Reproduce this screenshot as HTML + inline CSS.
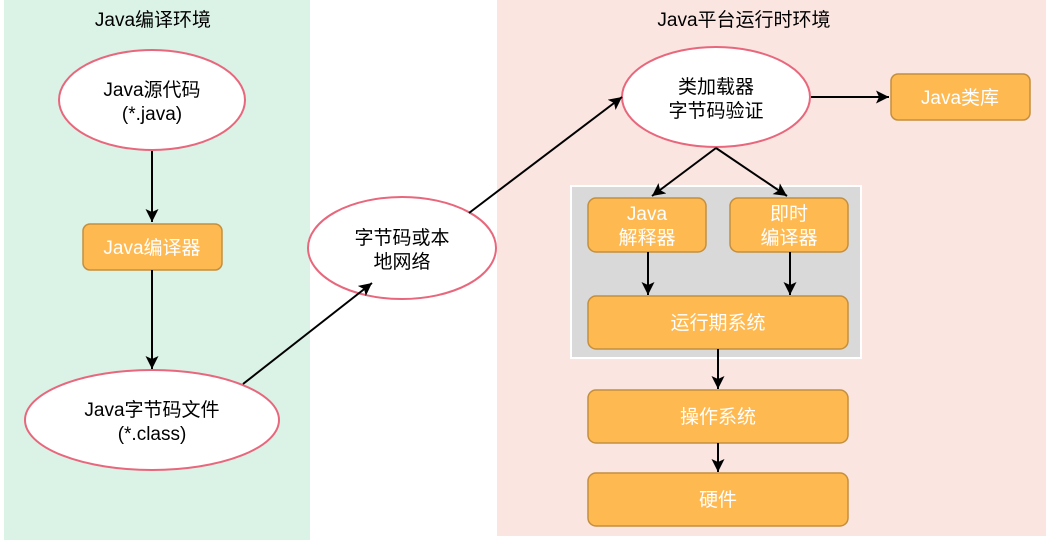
<!DOCTYPE html>
<html><head><meta charset="utf-8"><style>
html,body{margin:0;padding:0;background:#fff;}
svg{display:block;}
text{font-family:"Liberation Sans","Noto Sans CJK SC",sans-serif;font-size:19px;text-anchor:middle;}
.w{fill:#fff;}
</style></head><body>
<svg width="1051" height="540" viewBox="0 0 1051 540" xmlns="http://www.w3.org/2000/svg">
<defs><marker id="a" markerWidth="14" markerHeight="14" refX="13" refY="6.5" orient="auto" markerUnits="userSpaceOnUse"><path d="M0,0 L13,6.5 L0,13 L3,6.5 z" fill="#000"/></marker></defs>
<rect x="4" y="0" width="306" height="540" fill="#dbf2e7"/>
<rect x="497" y="0" width="549" height="536" fill="#fbe5e1"/>
<text x="153" y="26">Java编译环境</text>
<text x="744" y="26">Java平台运行时环境</text>
<g fill="#fff" stroke="#e8677c" stroke-width="2">
<ellipse cx="152" cy="100" rx="93" ry="50"/>
<ellipse cx="152" cy="420" rx="127" ry="50"/>
<ellipse cx="402" cy="248" rx="94" ry="51"/>
<ellipse cx="716" cy="97" rx="94" ry="50"/>
</g>
<rect x="571" y="186" width="290" height="172" fill="#d9d9d9" stroke="#fff" stroke-width="2"/>
<g fill="#ffb951" stroke="#c38f3e" stroke-width="1.5">
<rect x="83" y="224" width="139" height="46" rx="7"/>
<rect x="891" y="74" width="139" height="46" rx="7"/>
<rect x="588" y="198" width="118" height="54" rx="8"/>
<rect x="730" y="198" width="118" height="54" rx="8"/>
<rect x="588" y="296" width="260" height="53" rx="8"/>
<rect x="588" y="390" width="260" height="53" rx="8"/>
<rect x="588" y="473" width="260" height="53" rx="8"/>
</g>
<text x="152" y="96">Java源代码</text><text x="152" y="120">(*.java)</text>
<text x="152" y="416">Java字节码文件</text><text x="152" y="440">(*.class)</text>
<text x="402" y="244">字节码或本</text><text x="402" y="268">地网络</text>
<text x="716" y="93">类加载器</text><text x="716" y="117">字节码验证</text>
<text class="w" x="152" y="254">Java编译器</text>
<text class="w" x="960" y="104">Java类库</text>
<text class="w" x="647" y="220">Java</text><text class="w" x="647" y="244">解释器</text>
<text class="w" x="789" y="220">即时</text><text class="w" x="789" y="244">编译器</text>
<text class="w" x="718" y="329">运行期系统</text>
<text class="w" x="718" y="423">操作系统</text>
<text class="w" x="718" y="506">硬件</text>
<g stroke="#000" stroke-width="2" fill="none" marker-end="url(#a)">
<line x1="152" y1="151" x2="152" y2="222"/>
<line x1="152" y1="270" x2="152" y2="369"/>
<line x1="243" y1="384" x2="372" y2="283"/>
<line x1="469" y1="213" x2="622" y2="97"/>
<line x1="811" y1="97" x2="889" y2="97"/>
<line x1="716" y1="148" x2="652" y2="196"/>
<line x1="716" y1="148" x2="787" y2="196"/>
<line x1="648" y1="252" x2="648" y2="295"/>
<line x1="790" y1="252" x2="790" y2="295"/>
<line x1="718" y1="349" x2="718" y2="389"/>
<line x1="718" y1="443" x2="718" y2="472"/>
</g>
</svg>
</body></html>
